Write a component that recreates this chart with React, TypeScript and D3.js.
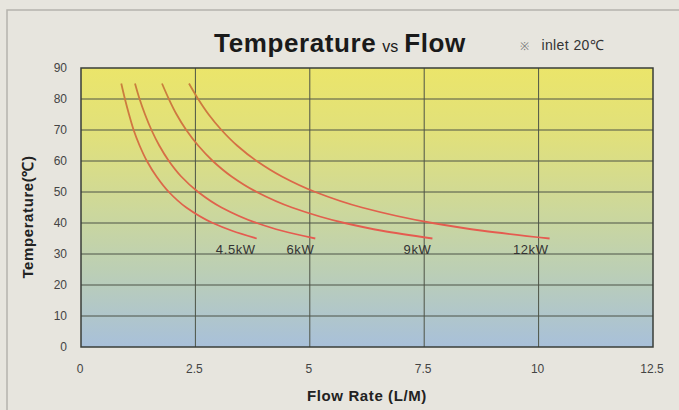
import React from "react";
import * as d3 from "d3";

// temperatures (°C)
const temps = [85, 80, 75, 70, 65, 60, 55, 50, 45, 40, 37.5, 35];
// flow rate (L/M) read at each temperature above
const flow45 = [0.88, 0.96, 1.05, 1.15, 1.28, 1.44, 1.65, 1.92, 2.3, 2.88, 3.3, 3.84];
const flow6 = [1.18, 1.28, 1.4, 1.54, 1.71, 1.92, 2.19, 2.56, 3.07, 3.84, 4.39, 5.12];
const flow9 = [1.77, 1.92, 2.09, 2.3, 2.56, 2.88, 3.29, 3.84, 4.61, 5.76, 6.58, 7.68];
const flow12 = [2.36, 2.56, 2.79, 3.07, 3.41, 3.84, 4.39, 5.12, 6.14, 7.68, 8.78, 10.24];
const seriesNames = ["4.5kW", "6kW", "9kW", "12kW"];
const seriesFlows = [flow45, flow6, flow9, flow12];

const xTicks = [0, 2.5, 5, 7.5, 10, 12.5];
const yTicks = [0, 10, 20, 30, 40, 50, 60, 70, 80, 90];

export default function App() {
  const W = 679;
  const H = 410;
  const x = d3.scaleLinear([0, 12.5], [81, 653]);
  const y = d3.scaleLinear([0, 90], [347, 68]);

  const line = d3
    .line<[number, number]>()
    .x((d) => x(d[0]))
    .y((d) => y(d[1]))
    .curve(d3.curveMonotoneY);

  const font = "'Liberation Sans', Arial, sans-serif";

  return (
    <svg
      width={W}
      height={H}
      style={{ position: "absolute", left: 0, top: 0 }}
      fontFamily={font}
    >
      <defs>
        <linearGradient id="bg" x1="0" y1="0" x2="0" y2="1">
          <stop offset="0" stopColor="#ebe56a" />
          <stop offset="0.25" stopColor="#e0e07c" />
          <stop offset="0.5" stopColor="#cdd89a" />
          <stop offset="0.72" stopColor="#bccfb4" />
          <stop offset="1" stopColor="#a8c0da" />
        </linearGradient>
        <linearGradient
          id="ln"
          gradientUnits="userSpaceOnUse"
          x1="0"
          y1={y(85)}
          x2="0"
          y2={y(35)}
        >
          <stop offset="0" stopColor="#c9803c" />
          <stop offset="1" stopColor="#e65a50" />
        </linearGradient>
      </defs>

      <rect width={W} height={H} fill="#e7e5de" />
      <path d={`M7,${H} V10 H${W}`} fill="none" stroke="#b5b3ad" strokeWidth={1.5} />

      {/* plot area */}
      <rect
        x={x(0)}
        y={y(90)}
        width={x(12.5) - x(0)}
        height={y(0) - y(90)}
        fill="url(#bg)"
      />

      {yTicks.slice(1, -1).map((t) => (
        <line
          key={"h" + t}
          x1={x(0)}
          x2={x(12.5)}
          y1={y(t)}
          y2={y(t)}
          stroke="#4d5346"
          strokeWidth={1}
        />
      ))}
      {xTicks.slice(1, -1).map((t) => (
        <line
          key={"v" + t}
          x1={x(t)}
          x2={x(t)}
          y1={y(0)}
          y2={y(90)}
          stroke="#4d5346"
          strokeWidth={1}
        />
      ))}
      <rect
        x={x(0)}
        y={y(90)}
        width={x(12.5) - x(0)}
        height={y(0) - y(90)}
        fill="none"
        stroke="#3a3e38"
        strokeWidth={1.5}
      />

      {seriesFlows.map((fl, i) => {
        const pts = fl.map((f, j) => [f, temps[j]] as [number, number]);
        const last = pts[pts.length - 1];
        return (
          <g key={seriesNames[i]}>
            <path
              d={line(pts) || ""}
              fill="none"
              stroke="url(#ln)"
              strokeWidth={1.8}
            />
            <text
              x={x(last[0]) - 1}
              y={y(last[1]) + 15}
              textAnchor="end"
              fontSize={13}
              letterSpacing={0.6}
              fill="#333"
            >
              {seriesNames[i]}
            </text>
          </g>
        );
      })}

      {/* tick labels */}
      {yTicks.map((t) => (
        <text
          key={"yl" + t}
          x={67}
          y={y(t) + 4}
          textAnchor="end"
          fontSize={12}
          fill="#444"
        >
          {t}
        </text>
      ))}
      {xTicks.map((t) => (
        <text
          key={"xl" + t}
          x={x(t) - 1}
          y={373}
          textAnchor="middle"
          fontSize={12}
          fill="#444"
        >
          {t}
        </text>
      ))}

      {/* titles */}
      <text x={340} y={52} textAnchor="middle" fill="#1a1a1a">
        <tspan fontSize={26} fontWeight="bold" letterSpacing={0.6}>
          Temperature
        </tspan>
        <tspan fontSize={16} dx={6}>
          vs
        </tspan>
        <tspan fontSize={26} fontWeight="bold" dx={6} letterSpacing={0.6}>
          Flow
        </tspan>
      </text>
      <text x={520} y={50} fontSize={14} fill="#333" letterSpacing={0.4}>
        <tspan fontSize={11} fill="#777">※</tspan>
        <tspan dx={12}>inlet 20℃</tspan>
      </text>
      <text
        transform="translate(33,217) rotate(-90)"
        textAnchor="middle"
        fontSize={15}
        fontWeight="bold"
        letterSpacing={0.6}
        fill="#222"
      >
        Temperature(℃)
      </text>
      <text
        x={367}
        y={401}
        textAnchor="middle"
        fontSize={15}
        fontWeight="bold"
        letterSpacing={0.6}
        fill="#222"
      >
        Flow Rate (L/M)
      </text>
    </svg>
  );
}
